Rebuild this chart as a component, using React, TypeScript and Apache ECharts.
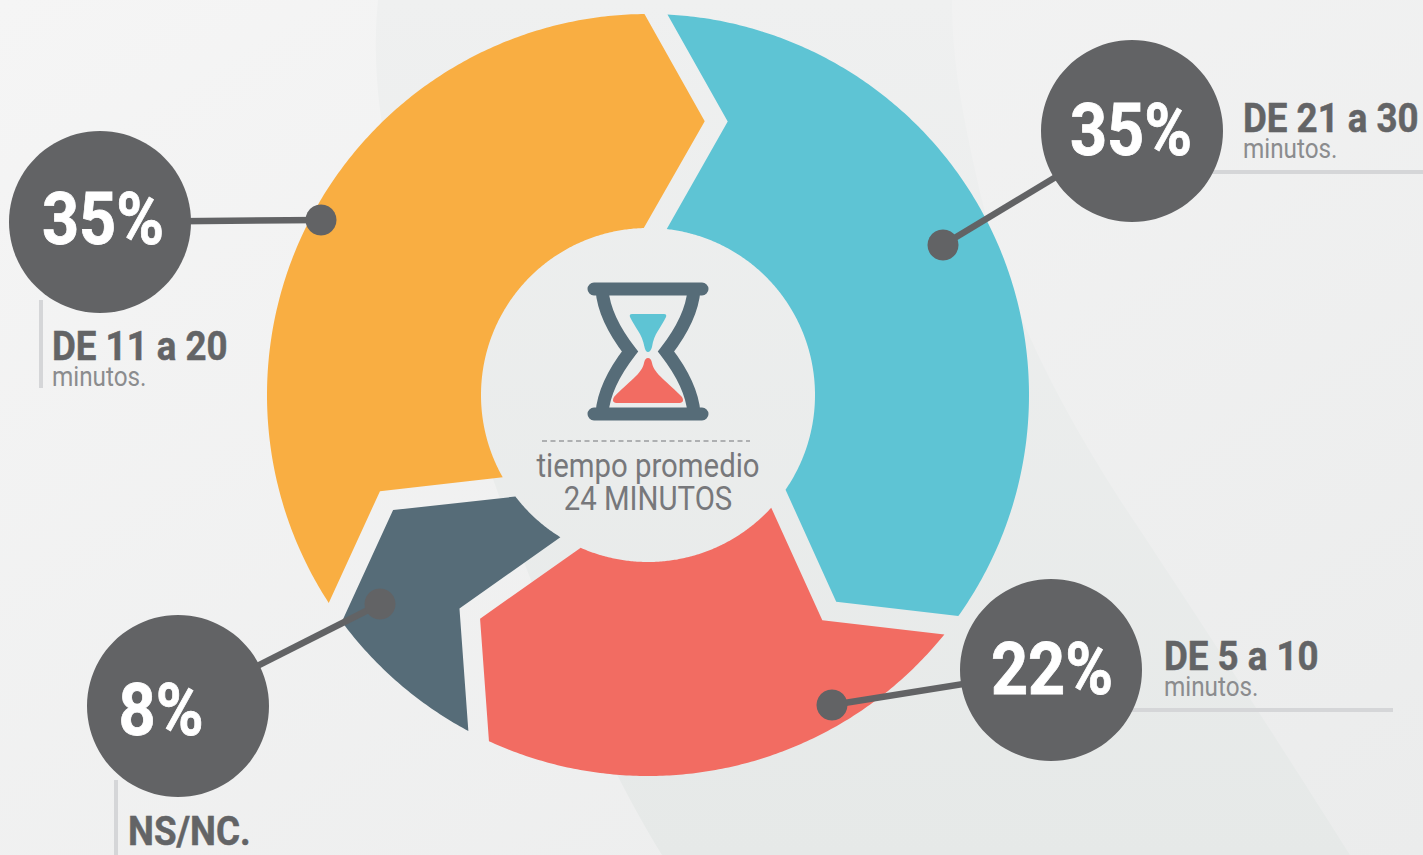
import React, { useEffect, useRef } from "react";
import * as echarts from "echarts";

const categories = ["DE 21 a 30", "DE 5 a 10", "NS/NC.", "DE 11 a 20"];
const shares = [35, 22, 8, 35];
const colors = ["#5EC4D4", "#F26C62", "#566C78", "#F9AE42"];
const shareLabels = ["35%", "22%", "8%", "35%"];
const centerLines = ["tiempo promedio", "24 MINUTOS"];
const unitLabel = "minutos.";

const CX = 648;
const CY = 395;
const R_OUT = 381;
const R_IN = 167;
const R_TIP = 282;
const TIP_SWEEP = 12.8;
const INNER_SWEEP = 1.3;
const GAP = 11.5;
const FIRST_ANGLE = 1.2;

const rad = (d: number) => (d * Math.PI) / 180;
const polar = (deg: number, r: number): [number, number] => [
  CX + r * Math.sin(rad(deg)),
  CY - r * Math.cos(rad(deg)),
];

// Boundaries of each arrow band, in degrees clockwise from twelve o'clock;
// every sweep is the band's share of the total.
const total = shares.reduce((a, b) => a + b, 0);
const bands: number[][] = [];
let running = FIRST_ANGLE;
shares.forEach((v) => {
  const sweep = (v / total) * 360;
  bands.push([running, running + sweep]);
  running += sweep;
});

// Arrow point on a boundary, pushed sideways along the boundary's tangent to open the gap.
function tipPoint(boundary: number, side: number): [number, number] {
  const [x, y] = polar(boundary + TIP_SWEEP, R_TIP);
  const t = rad(boundary);
  return [x + side * GAP * Math.cos(t), y + side * GAP * Math.sin(t)];
}

function arc(from: number, to: number, r: number): [number, number][] {
  const n = Math.max(2, Math.ceil(Math.abs(to - from) * 2));
  const pts: [number, number][] = [];
  for (let i = 0; i <= n; i++) pts.push(polar(from + ((to - from) * i) / n, r));
  return pts;
}

function bandPoints(a0: number, a1: number): [number, number][] {
  const dOut = (Math.asin(GAP / R_OUT) * 180) / Math.PI;
  const dIn = (Math.asin(GAP / R_IN) * 180) / Math.PI;
  return [
    ...arc(a0 + dOut, a1 - dOut, R_OUT),
    tipPoint(a1, -1),
    ...arc(a1 + INNER_SWEEP - dIn, a0 + INNER_SWEEP + dIn, R_IN),
    tipPoint(a0, 1),
  ];
}

const line = (x1: number, y1: number, x2: number, y2: number, stroke: string, lineWidth: number) => ({
  type: "line",
  shape: { x1, y1, x2, y2 },
  style: { stroke, lineWidth },
});

const txt = (
  text: string,
  x: number,
  y: number,
  font: string,
  fill: string,
  scaleX: number,
  textAlign = "left",
  weightStroke = 0
) => ({
  type: "text",
  x,
  y,
  scaleX,
  style: {
    text,
    x: 0,
    y: 0,
    font,
    fill,
    textAlign,
    textVerticalAlign: "middle",
    ...(weightStroke ? { stroke: fill, lineWidth: weightStroke } : {}),
  },
});

const GREY = "#626365";
const RULE = "#D5D6D8";
const FACE = "'Roboto', sans-serif";

// Each callout: big disc, its dot on the band, and the labels beside it.
const callouts = [
  { disc: [1132, 131], dot: [943, 245], label: [1243, 118], unit: [1243, 149], share: [1131, 130] },
  { disc: [1051, 670], dot: [832, 705], label: [1164, 656], unit: [1164, 687], share: [1052, 669] },
  { disc: [178, 706], dot: [380, 604], label: [128, 831], unit: null, share: [161, 710] },
  { disc: [100, 222], dot: [321, 220], label: [52, 346], unit: [52, 377], share: [103, 219] },
];

export default function App() {
  const ref = useRef<HTMLDivElement>(null);

  useEffect(() => {
    document.body.style.margin = "0";
    const G = echarts.graphic as any;
    G.registerShape(
      "backdropBand",
      G.extendPath(
        "M378 0 C372 60 376 150 420 260 C470 420 560 690 662 855 L1350 855 C1290 760 1200 620 1120 500 C1050 390 1000 290 975 170 C962 110 952 60 952 0 Z",
        {}
      )
    );
    G.registerShape(
      "hourglassFrame",
      G.extendPath(
        "M594 289 H702 M594 414 H702 M602 290 C604 315 618 336 630 351.5 C618 367 604 388 602 413 M694 290 C692 315 678 336 666 351.5 C678 367 692 388 694 413",
        {}
      )
    );
    G.registerShape(
      "sandTop",
      G.extendPath(
        "M632 314 H664 Q667 314 666 317 C661 328 654 333 652 347 Q650.5 352 648 352 Q645.5 352 644.5 347 C642 333 635 328 630 317 Q629 314 632 314 Z",
        {}
      )
    );
    G.registerShape(
      "sandBottom",
      G.extendPath(
        "M648 358 Q651 358 652 363 C654 374 668 382 682 397 Q685 402 680 403 H616 Q611 402 614 397 C628 382 642 374 644 363 Q645 358 648 358 Z",
        {}
      )
    );

    const chart = echarts.init(ref.current!, null, { renderer: "svg" });

    const overlay: any[] = [];
    overlay.push(
      line(1210, 172, 1423, 172, RULE, 4),
      line(1130, 710, 1393, 710, RULE, 4),
      line(41, 300, 41, 388, RULE, 4),
      line(116, 780, 116, 855, RULE, 4)
    );
    callouts.forEach((c, i) => {
      overlay.push(line(c.disc[0], c.disc[1], c.dot[0], c.dot[1], GREY, 6.5));
      overlay.push({
        type: "circle",
        shape: { cx: c.dot[0], cy: c.dot[1], r: 15.5 },
        style: { fill: GREY },
      });
      overlay.push({
        type: "circle",
        shape: { cx: c.disc[0], cy: c.disc[1], r: 91 },
        style: { fill: GREY },
      });
      overlay.push(
        txt(shareLabels[i], c.share[0], c.share[1], `700 72px ${FACE}`, "#FFFFFF", 0.9, "center", 0.8)
      );
      overlay.push(txt(categories[i], c.label[0], c.label[1], `700 41px ${FACE}`, "#636466", 0.895, "left", 0.5));
      if (c.unit) {
        overlay.push(txt(unitLabel, c.unit[0], c.unit[1], `400 27px ${FACE}`, "#8B8C8E", 0.9));
      }
    });

    overlay.push(
      { type: "hourglassFrame", style: { fill: "none", stroke: "#566C78", lineWidth: 13, lineCap: "round" } },
      { type: "sandTop", style: { fill: "#5EC4D4" } },
      { type: "sandBottom", style: { fill: "#F26C62" } },
      {
        type: "line",
        shape: { x1: 542, y1: 441, x2: 750, y2: 441 },
        style: { stroke: "#9A9C9E", lineWidth: 1.5, lineDash: [5, 3.5] },
      },
      txt(centerLines[0], 648, 466, `400 33px ${FACE}`, "#77787B", 0.89, "center"),
      txt(centerLines[1], 648, 499, `400 33px ${FACE}`, "#77787B", 0.89, "center")
    );

    chart.setOption({
      animation: false,
      backgroundColor: {
        type: "linear",
        x: 0,
        y: 0,
        x2: 1,
        y2: 1,
        colorStops: [
          { offset: 0, color: "#F5F5F5" },
          { offset: 1, color: "#EBECEC" },
        ],
      },
      graphic: {
        elements: [
          {
            type: "backdropBand",
            z: 0,
            style: {
              fill: new echarts.graphic.LinearGradient(0, 0, 0, 1, [
                { offset: 0, color: "#EFF0F0" },
                { offset: 1, color: "#E6E9E8" },
              ]),
            },
          },
          ...overlay.map((e) => ({ ...e, z: 10 })),
        ],
      },
      series: [
        {
          type: "custom",
          coordinateSystem: "none",
          z: 2,
          silent: true,
          data: bands,
          renderItem: (params: any, api: any) => ({
            type: "polygon",
            shape: { points: bandPoints(api.value(0), api.value(1)) },
            style: { fill: colors[params.dataIndex] },
          }),
        },
      ],
    });

    return () => chart.dispose();
  }, []);

  return <div ref={ref} style={{ position: "fixed", left: 0, top: 0, width: 1423, height: 855 }} />;
}
